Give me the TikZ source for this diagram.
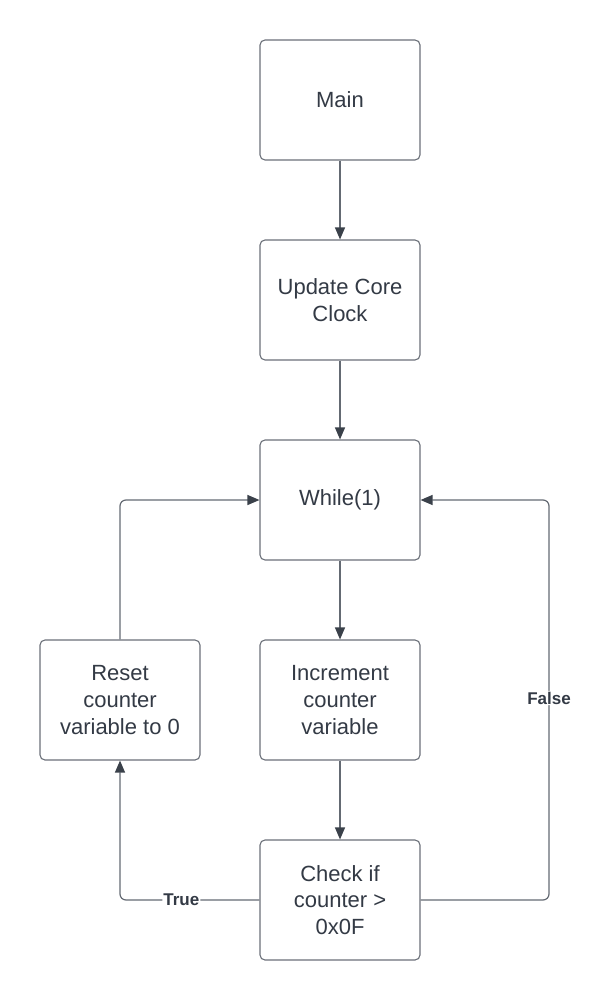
\documentclass[tikz,border=0pt]{standalone}
\usepackage{fontspec}
\setmainfont{Liberation Sans}
\usetikzlibrary{arrows.meta}
\definecolor{txt}{HTML}{333A45}
\definecolor{boxline}{HTML}{6B7079}
\definecolor{conn}{HTML}{646A73}
\definecolor{tip}{HTML}{3A414A}
\begin{document}
\begin{tikzpicture}[x=1pt,y=-1pt,
  blk/.style={draw=boxline,line width=1.1pt,rounded corners=5pt,fill=white,
    minimum width=160pt,minimum height=120pt,align=center,text=txt,
    font=\fontsize{22}{26.7}\selectfont,inner sep=0pt},
  conline/.style={draw=conn,line width=1.2pt,
    -{Triangle[length=12pt,width=10pt,color=tip,fill=tip]}},
  lbl/.style={fill=white,text=txt,font=\fontsize{17}{19}\bfseries\selectfont,inner sep=1pt}]
\useasboundingbox (0,0) rectangle (613,1000);
\node[blk] (main) at (340,100) {Main};
\node[blk] (clock) at (340,300) {Update Core\\Clock};
\node[blk] (while) at (340,500) {While(1)};
\node[blk] (inc) at (340,700) {Increment\\counter\\variable};
\node[blk] (check) at (340,900) {Check if\\counter >\\0x0F};
\node[blk] (reset) at (120,700) {Reset\\counter\\variable to 0};
\coordinate (fx) at (549,0);
\draw[conline] (main) -- (clock);
\draw[conline] (clock) -- (while);
\draw[conline] (while) -- (inc);
\draw[conline] (inc) -- (check);
\draw[conline,rounded corners=6pt] (reset.north) |- (while.west);
\draw[conline,rounded corners=6pt] (check.west) -| node[lbl,pos=0.28]{True} (reset.south);
\draw[conline,rounded corners=6pt] (check.east) -- (check.east -| fx)
  -- node[lbl,pos=0.505]{False} (while.east -| fx) -- (while.east);
\end{tikzpicture}
\end{document}
